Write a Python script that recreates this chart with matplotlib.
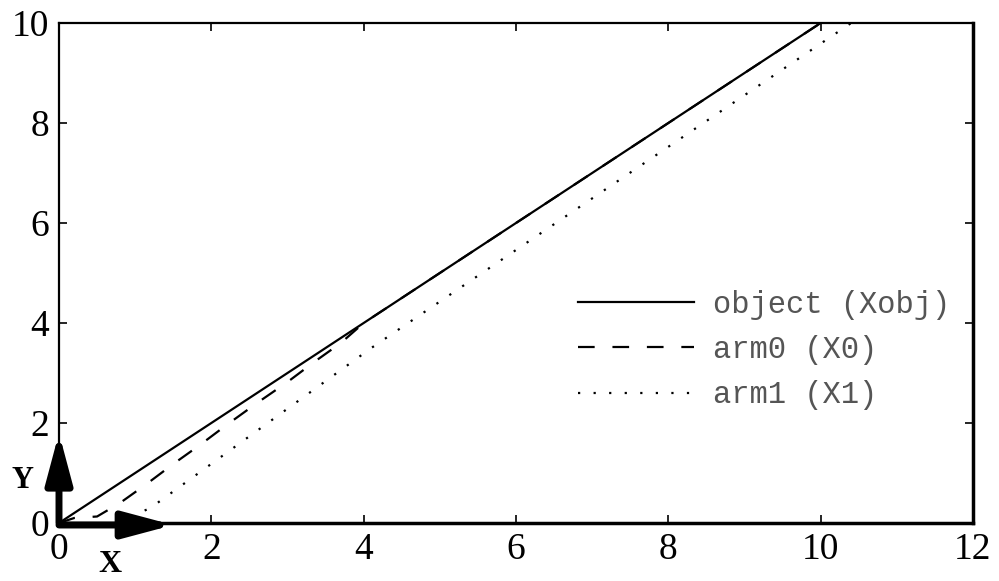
import matplotlib.pyplot as plt

# values
obj_x = [0, 10]
obj_y = [0, 10]

arm0_x = [0, 0.2, 0.5, 0.8, 1.15, 1.5, 1.85, 2.2, 2.6, 3.0, 3.35, 3.7, 4.0, 10]
arm0_y = [0, 0.1, 0.13, 0.4, 0.78, 1.18, 1.56, 1.96, 2.4, 2.82, 3.22, 3.6, 4.0, 10]

arm1_x = [0.75, 1.2, 4.1, 10.4]
arm1_y = [0, 0.3, 3.5, 10]

labels = ["object (Xobj)", "arm0 (X0)", "arm1 (X1)"]
xticks = [0, 2, 4, 6, 8, 10, 12]
yticks = [0, 2, 4, 6, 8, 10]

fig = plt.figure(figsize=(9.99, 5.81), dpi=100)
ax = fig.add_axes([59 / 999, 1 - 523 / 581, 914 / 999, 500 / 581])

ax.plot(obj_x, obj_y, color="black", lw=1.6, label=labels[0])
ax.plot(arm0_x, arm0_y, color="black", lw=1.6, dashes=(7.5, 8), label=labels[1])
ax.plot(arm1_x, arm1_y, color="black", lw=1.6, dashes=(1, 6), label=labels[2])

ax.set_xlim(0, 12)
ax.set_ylim(0, 10)
ax.set_xticks(xticks)
ax.set_yticks(yticks)
ax.tick_params(direction="in", length=6, width=1.2, top=True, right=True,
               labelsize=27, pad=7)
for lab in ax.get_xticklabels() + ax.get_yticklabels():
    lab.set_family("Liberation Serif")
for sp in ax.spines.values():
    sp.set_linewidth(1.6)
ax.spines["bottom"].set_linewidth(2.5)
ax.spines["right"].set_linewidth(2.5)

leg = ax.legend(loc="center left", bbox_to_anchor=(0.568, 0.346), frameon=False,
                prop={"family": "Liberation Mono", "size": 22},
                handlelength=3.8, handletextpad=0.6, labelspacing=0.5,
                borderpad=0, borderaxespad=0)
for t in leg.get_texts():
    t.set_color("#555555")

# coordinate frame arrows at the origin
arrow_style = "-|>,head_length=1.5,head_width=0.4"
ax.annotate("", xy=(0, 1.8), xytext=(0, 0), annotation_clip=False,
            arrowprops=dict(arrowstyle=arrow_style, mutation_scale=20, lw=5,
                            color="black", shrinkA=0, shrinkB=0))
ax.annotate("", xy=(1.5, -0.04), xytext=(0, -0.04), annotation_clip=False,
            arrowprops=dict(arrowstyle=arrow_style, mutation_scale=20, lw=5,
                            color="black", shrinkA=0, shrinkB=0))
fig.text(22 / 999, 1 - 480 / 581, "Y", family="Liberation Serif", weight="bold",
         fontsize=22, ha="center", va="center")
fig.text(110 / 999, 1 - 565 / 581, "X", family="Liberation Serif", weight="bold",
         fontsize=23, ha="center", va="center")

fig.savefig("out.png", dpi=100)
